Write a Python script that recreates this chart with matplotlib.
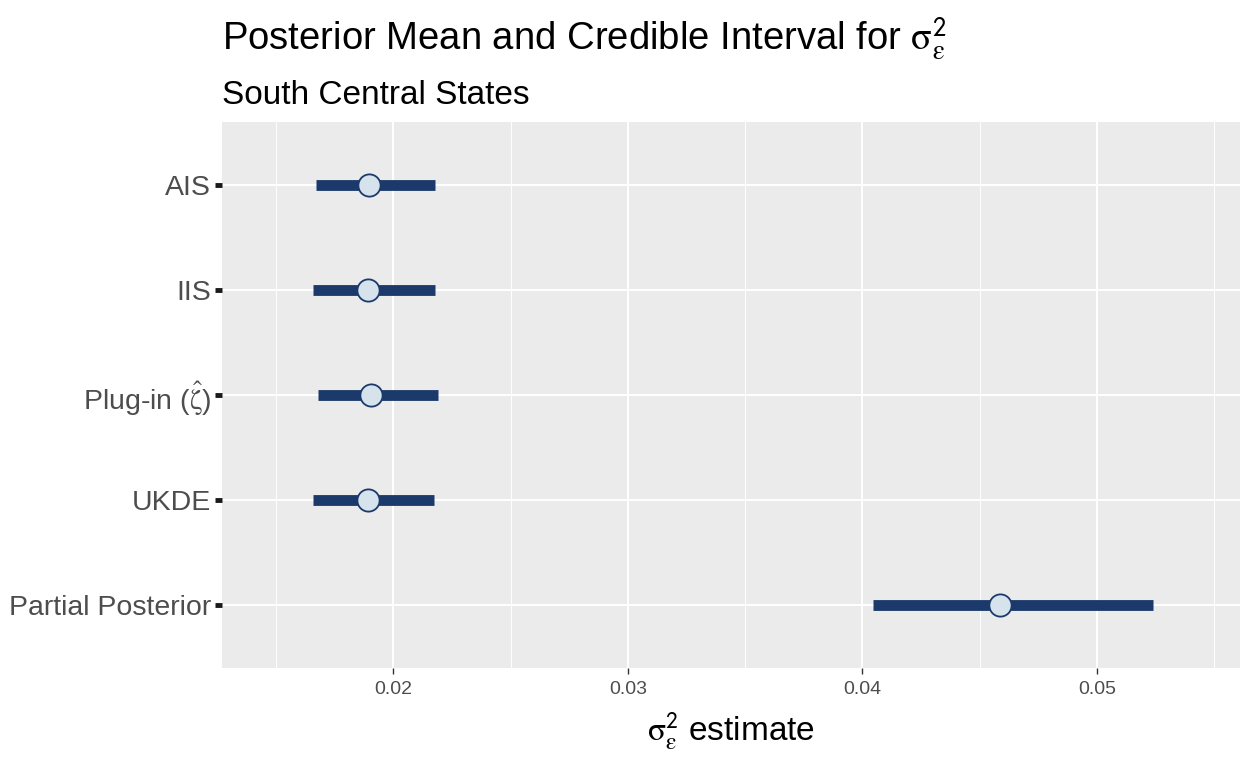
import matplotlib
matplotlib.use("Agg")
import matplotlib.pyplot as plt
import numpy as np

plt.rcParams["font.family"] = ["Liberation Sans", "DejaVu Sans"]
plt.rcParams["mathtext.fontset"] = "stix"

# data (top to bottom as displayed)
methods = ["AIS", "IIS", r"Plug-in ($\mathrm{\hat{\zeta}}$)", "UKDE", "Partial Posterior"]
means = [0.01898, 0.01893, 0.01906, 0.01893, 0.04586]
lower = [0.01672, 0.01659, 0.01680, 0.01659, 0.04045]
upper = [0.02179, 0.02179, 0.02192, 0.02175, 0.05238]

sig = r"$\mathrm{\sigma}^{\mathsf{2}}_{\mathrm{\varepsilon}}$"

fig = plt.figure(figsize=(12.48, 7.6), dpi=100)
ax = fig.add_axes([0.178, 0.121, 0.8156, 0.7185])
ax.set_facecolor("#EBEBEB")

ypos = np.arange(len(methods))[::-1] + 1
ax.hlines(ypos, lower, upper, color="#1B3A6B", linewidth=7.8, zorder=3)
ax.plot(means, ypos, "o", markersize=16, markerfacecolor="#D6E2EC",
        markeredgecolor="#1B3A6B", markeredgewidth=1.3, zorder=4)

ax.set_xlim(0.01271, 0.05609)
ax.set_ylim(0.4, 5.6)
ax.set_xticks([0.02, 0.03, 0.04, 0.05])
ax.set_xticklabels(["0.02", "0.03", "0.04", "0.05"])
ax.set_xticks([0.015, 0.025, 0.035, 0.045, 0.055], minor=True)
ax.set_yticks(ypos)
ax.set_yticklabels(methods)

ax.grid(which="major", color="white", linewidth=1.4, zorder=0)
ax.grid(which="minor", axis="x", color="white", linewidth=0.7, zorder=0)
ax.set_axisbelow(True)
for s in ax.spines.values():
    s.set_visible(False)

ax.tick_params(axis="x", which="major", colors="#333333", length=4, width=1,
               labelsize=14, labelcolor="#4D4D4D", pad=5)
ax.tick_params(axis="x", which="minor", length=0)
ax.tick_params(axis="y", colors="#1A1A1A", length=5, width=3.5,
               labelsize=20.5, labelcolor="#4D4D4D", pad=3)

ax.set_xlabel(sig + " estimate", fontsize=24, labelpad=9)

fig.text(0.178, 0.934, "Posterior Mean and Credible Interval for " + sig,
         fontsize=27.5, va="baseline", ha="left")
fig.text(0.178, 0.863, "South Central States", fontsize=24, va="baseline", ha="left")

fig.savefig("out.png", dpi=100)
